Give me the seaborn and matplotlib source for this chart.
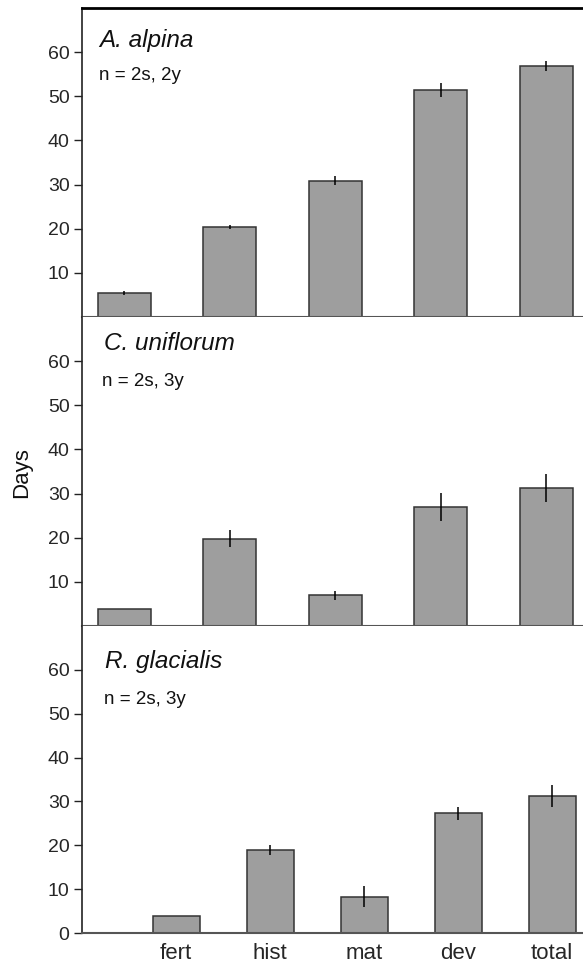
import matplotlib
matplotlib.use("Agg")
import matplotlib.pyplot as plt
import seaborn as sns
import pandas as pd

# phases on the x axis
phases = ["fert", "hist", "mat", "dev", "total"]

# mean days and error per species
alpina_days = [5.4, 20.4, 30.9, 51.4, 56.9]
alpina_err = [0.5, 0.4, 1.1, 1.6, 1.1]

uniflorum_days = [3.8, 19.8, 7.0, 27.0, 31.2]
uniflorum_err = [0.0, 2.0, 1.0, 3.2, 3.2]

glacialis_days = [3.8, 18.9, 8.3, 27.3, 31.3]
glacialis_err = [0.0, 1.1, 2.4, 1.5, 2.5]

species = ["A. alpina", "C. uniflorum", "R. glacialis"]
sample_info = ["n = 2s, 2y", "n = 2s, 3y", "n = 2s, 3y"]
yticks_top = [10, 20, 30, 40, 50, 60]
yticks_bottom = [0, 10, 20, 30, 40, 50, 60]

sns.set_theme(style="white")
plt.rcParams["font.family"] = ["Liberation Sans", "DejaVu Sans"]

fig = plt.figure(figsize=(5.83, 9.67), dpi=100)

W, H = 583, 967
left = 82 / W
width = 517 / W
# panel pixel extents (top, bottom)
panels_px = [(8, 317), (317, 626), (626, 933)]

bar_color = "#9e9e9e"
edge_color = "#333333"
axis_gray = "#555555"

all_days = [alpina_days, uniflorum_days, glacialis_days]
all_err = [alpina_err, uniflorum_err, glacialis_err]
# label positions (axes fraction) per panel
name_pos = [(0.033, 0.896), (0.043, 0.915), (0.045, 0.885)]
info_pos = [(0.033, 0.783), (0.039, 0.79), (0.043, 0.762)]

axes = []
for i in range(3):
    top_px, bot_px = panels_px[i]
    ax = fig.add_axes([left, 1 - bot_px / H, width, (bot_px - top_px) / H])
    axes.append(ax)

    df = pd.DataFrame({"phase": phases, "days": all_days[i]})
    sns.barplot(data=df, x="phase", y="days", order=phases, ax=ax,
                color=bar_color, saturation=1, width=0.5,
                edgecolor=edge_color, linewidth=1.1, errorbar=None)
    ax.errorbar(range(len(phases)), all_days[i], yerr=all_err[i],
                fmt="none", ecolor="black", elinewidth=1.1, capsize=0)

    ax.set_ylim(0, 70)
    if i < 2:
        ax.set_xlim(-0.4, 4.5)
        ax.set_yticks(yticks_top)
        ax.set_xticks([])
    else:
        ax.set_xlim(-1.0, 4.5)
        ax.set_yticks(yticks_bottom)
        ax.set_xticks(range(len(phases)))
        ax.set_xticklabels(phases, fontsize=16)
        ax.tick_params(axis="x", length=0, pad=7)
    ax.set_xlabel("")
    ax.set_ylabel("")
    ax.tick_params(axis="y", direction="out", length=6, width=1,
                   color="#222222", labelsize=14, pad=3, left=True)

    for s in ["left", "bottom", "top", "right"]:
        ax.spines[s].set_visible(True)
    ax.spines["left"].set_color("#222222")
    ax.spines["left"].set_linewidth(1.2)
    ax.spines["bottom"].set_color(axis_gray)
    ax.spines["bottom"].set_linewidth(1.5)
    ax.spines["right"].set_visible(False)
    if i == 0:
        ax.spines["top"].set_color("black")
        ax.spines["top"].set_linewidth(2)
    else:
        ax.spines["top"].set_visible(False)

    ax.text(name_pos[i][0], name_pos[i][1], species[i], transform=ax.transAxes,
            fontsize=17.5, style="italic", va="center", ha="left", color="#111111")
    ax.text(info_pos[i][0], info_pos[i][1], sample_info[i], transform=ax.transAxes,
            fontsize=13.5, va="center", ha="left", color="#111111")

fig.text(22 / W, 1 - 473 / H, "Days", rotation=90, fontsize=16,
         va="center", ha="center", color="#111111")

fig.savefig("out.png", dpi=100)
